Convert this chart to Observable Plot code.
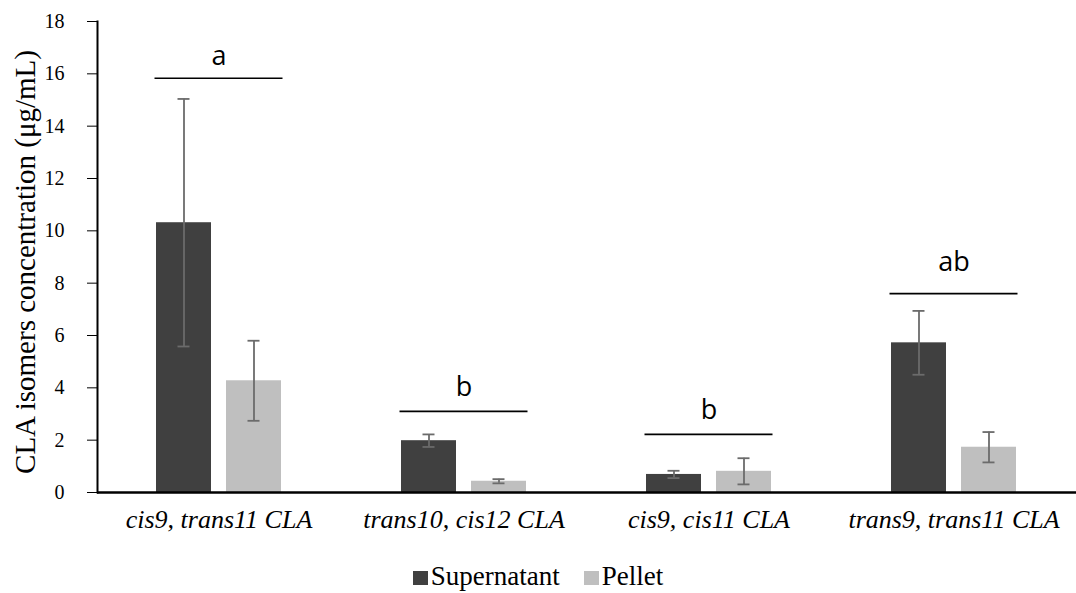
<!DOCTYPE html>
<html>
<head>
<meta charset="utf-8">
<script src="https://cdn.jsdelivr.net/npm/d3@7"></script>
<script src="https://cdn.jsdelivr.net/npm/@observablehq/plot@0.6"></script>
<style>
  html, body { margin: 0; padding: 0; background: #fff; font-family: "Liberation Serif", "Times New Roman", "DejaVu Serif", serif; }
  #chart svg { display: block; }
  #legend { font-family: "Liberation Serif", "Times New Roman", "DejaVu Serif", serif; font-size: 27px; line-height: 30px; padding-top: 16px; text-align: center; color: #000; }
  #legend .item { display: inline-block; margin: 0 12px; }
  #legend .sw { display: inline-block; width: 15px; height: 14px; margin-right: 3px; vertical-align: baseline; }
</style>
</head>
<body>
<div id="chart"></div>
<div id="legend"></div>
<script>
const categories = ["cis9, trans11 CLA", "trans10, cis12 CLA", "cis9, cis11 CLA", "trans9, trans11 CLA"];
const seriesNames = ["Supernatant", "Pellet"];
const supernatant = [10.31, 1.98, 0.69, 5.72];
const supernatantErr = [4.73, 0.24, 0.14, 1.22];
const pellet = [4.27, 0.43, 0.81, 1.73];
const pelletErr = [1.53, 0.08, 0.50, 0.58];
const sigLetters = ["a", "b", "b", "ab"];
const sigLineLevel = [15.83, 3.10, 2.22, 7.60];
const sigLetterLevel = [16.35, 3.67, 2.79, 8.48];
const yTicks = [0, 2, 4, 6, 8, 10, 12, 14, 16, 18];
const yLabel = "CLA isomers concentration (\u03bcg/mL)";
const colors = ["#404040", "#bfbfbf"];

const supRows = categories.map((c, i) => ({category: c, value: supernatant[i], err: supernatantErr[i]}));
const pelRows = categories.map((c, i) => ({category: c, value: pellet[i], err: pelletErr[i]}));
const sigRows = categories.map((c, i) => ({category: c, letter: sigLetters[i], line: sigLineLevel[i], text: sigLetterLevel[i]}));

const serif = "'Liberation Serif', 'Times New Roman', 'DejaVu Serif', serif";
const errColor = "#6b6b6b";
function seriesMarks(rows, fill, dx) {
  return [
    Plot.barY(rows, {x: "category", y: "value", fill, dx}),
    Plot.ruleX(rows, {x: "category", y1: d => d.value - d.err, y2: d => d.value + d.err, dx, stroke: errColor, strokeWidth: 1.8}),
    Plot.tickY(rows, {x: "category", y: d => d.value + d.err, dx, stroke: errColor, strokeWidth: 1.8, insetLeft: 21.5, insetRight: 21.5}),
    Plot.tickY(rows, {x: "category", y: d => d.value - d.err, dx, stroke: errColor, strokeWidth: 1.8, insetLeft: 21.5, insetRight: 21.5})
  ];
}

const chart = Plot.plot({
  width: 1076,
  height: 545,
  marginLeft: 97,
  marginRight: 0,
  marginTop: 21,
  marginBottom: 53,
  style: {background: "#fff", color: "#000", fontFamily: serif},
  x: {domain: categories, range: [95, 1077], paddingInner: 0.776, paddingOuter: 0.388, label: null},
  y: {domain: [0, 18], label: null},
  marks: [
    ...seriesMarks(supRows, colors[0], -35),
    ...seriesMarks(pelRows, colors[1], 35),
    Plot.tickY(sigRows, {x: "category", y: "line", stroke: "#000", strokeWidth: 1.6, insetLeft: -36.5, insetRight: -36.5}),
    Plot.text(sigRows, {x: "category", y: "text", text: "letter", lineAnchor: "bottom", fontSize: 27, fontFamily: "'Open Sans', sans-serif", fill: "#000"}),
    Plot.ruleY([0], {stroke: "#000", strokeWidth: 2.5}),
    Plot.frame({anchor: "left", stroke: "#000", strokeWidth: 2}),
    Plot.axisY({ticks: yTicks, tickSize: 10, tickPadding: 23, fontSize: 20, fontFamily: serif, label: null, stroke: "#000"}),
    Plot.axisX({tickSize: 0, tickPadding: 17, fontSize: 26, fontStyle: "italic", fontFamily: serif, label: null}),
    Plot.text([yLabel], {frameAnchor: "left", textAnchor: "middle", rotate: -90, dx: -72, dy: 5, fontSize: 29, fontFamily: serif, fill: "#000"})
  ]
});
document.getElementById("chart").appendChild(chart);

const legend = document.getElementById("legend");
seriesNames.forEach((name, i) => {
  const item = document.createElement("span");
  item.className = "item";
  const sw = document.createElement("span");
  sw.className = "sw";
  sw.style.background = colors[i];
  item.appendChild(sw);
  item.appendChild(document.createTextNode(name));
  legend.appendChild(item);
});
</script>
</body>
</html>
